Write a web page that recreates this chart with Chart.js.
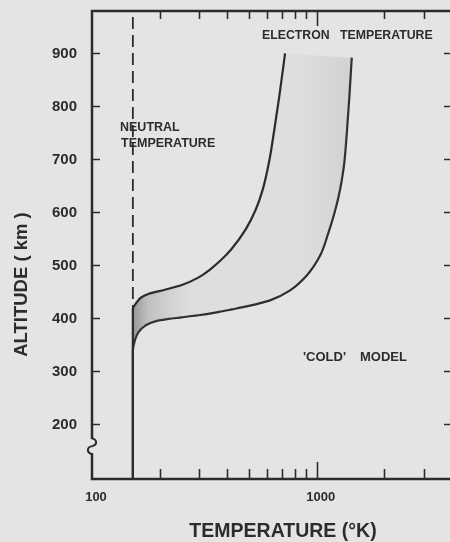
<!DOCTYPE html>
<html>
<head>
<meta charset="utf-8">
<script src="https://cdn.jsdelivr.net/npm/chart.js@4.4.0/dist/chart.umd.min.js"></script>
<style>
  html, body { margin: 0; padding: 0; overflow: hidden; background: #e4e4e2; }
  #wrap { position: absolute; left: 0; top: 0; width: 460px; height: 542px; }
</style>
</head>
<body>
<div id="wrap"><canvas id="chart" width="460" height="542"></canvas></div>
<script>
// 軸の範囲と目盛り
const tempRange = [100, 4000];
const altRange = [97, 980];
const xLabelTicks = [100, 1000];
const xMinorTicks = [200, 300, 400, 500, 600, 700, 800, 900, 2000, 3000];
const xMajorTicks = [1000];
const altTicks = [200, 300, 400, 500, 600, 700, 800, 900];

// 中性温度 (K)
const neutralTemp = 152;
const neutralAlt = [97, 980];

// 電子温度 上側の曲線
const upperAlt  = [97, 418, 430, 440, 446, 454, 463, 477, 493, 511, 530, 568, 605, 643, 699, 755, 818, 900];
const upperTemp = [152, 152, 158, 166, 178, 211, 251, 297, 337, 377, 416, 483, 535, 575, 616, 647, 681, 723];

// 電子温度 下側の曲線
const lowerAlt  = [97, 339, 358, 374, 386, 394.5, 399, 402, 406, 411, 417, 424, 434, 453, 481, 518, 561, 596, 629, 661, 693, 755, 818, 892];
const lowerTemp = [152, 152, 155, 161, 172, 191, 219, 251, 297, 353, 419, 505, 620, 761, 903, 1034, 1126, 1194, 1250, 1293, 1326, 1364, 1397, 1432];

const ink = '#2c2c2c';
const paper = '#e4e4e2';

document.addEventListener('DOMContentLoaded', () => {
    const ctx = document.getElementById('chart').getContext('2d');

    const toPoints = (temps, alts) => temps.map((t, i) => ({ x: t, y: alts[i] }));

    // 二本の曲線の間の網かけ
    const shadeFill = (context) => {
        const chart = context.chart;
        if (!chart.chartArea) return 'rgba(120,120,120,0.08)';
        const xs = chart.scales.x;
        const x0 = xs.getPixelForValue(neutralTemp);
        const x1 = xs.getPixelForValue(1450);
        const g = chart.ctx.createLinearGradient(x0, 0, x1, 0);
        g.addColorStop(0, 'rgba(70,70,70,0.5)');
        g.addColorStop(0.07, 'rgba(100,100,100,0.28)');
        g.addColorStop(0.25, 'rgba(130,130,130,0.07)');
        g.addColorStop(0.75, 'rgba(130,130,130,0.05)');
        g.addColorStop(1, 'rgba(110,110,110,0.16)');
        return g;
    };

    // 枠・目盛り・文字
    const framePlugin = {
        id: 'frame',
        beforeDraw(chart) {
            const c = chart.ctx;
            c.save();
            c.fillStyle = paper;
            c.fillRect(0, 0, chart.width, chart.height);
            c.restore();
        },
        afterDatasetsDraw(chart) {
            const c = chart.ctx;
            const { left, right, top, bottom } = chart.chartArea;
            const xs = chart.scales.x;
            const ys = chart.scales.y;
            c.save();
            c.strokeStyle = ink;
            c.lineCap = 'butt';

            c.lineWidth = 1.6;
            c.beginPath();
            xMinorTicks.forEach(v => {
                const px = Math.round(xs.getPixelForValue(v)) + 0.5;
                c.moveTo(px, bottom); c.lineTo(px, bottom - 10);
                c.moveTo(px, top); c.lineTo(px, top + 8);
            });
            xMajorTicks.forEach(v => {
                const px = Math.round(xs.getPixelForValue(v)) + 0.5;
                c.moveTo(px, bottom); c.lineTo(px, bottom - 17);
                c.moveTo(px, top); c.lineTo(px, top + 15);
            });
            altTicks.forEach(v => {
                const py = Math.round(ys.getPixelForValue(v)) + 0.5;
                c.moveTo(left, py); c.lineTo(left + 8, py);
                c.moveTo(right, py); c.lineTo(right - 8, py);
            });
            c.stroke();

            c.lineWidth = 2.5;
            c.strokeRect(left, top, right - left, bottom - top);

            // 縦軸の省略記号
            const by = ys.getPixelForValue(159);
            c.fillStyle = paper;
            c.fillRect(left - 3, by - 7, 6, 14);
            c.lineWidth = 2;
            c.beginPath();
            c.moveTo(left, by - 8);
            c.bezierCurveTo(left + 6, by - 6, left + 5, by - 1, left, by);
            c.bezierCurveTo(left - 5, by + 1, left - 6, by + 6, left, by + 8);
            c.stroke();
            c.restore();
        },
        afterDraw(chart) {
            const c = chart.ctx;
            c.save();
            c.fillStyle = ink;
            c.textBaseline = 'middle';
            c.textAlign = 'left';

            c.font = 'bold 12.3px "Liberation Sans"';
            c.fillText('ELECTRON', 262, 36);
            c.fillText('TEMPERATURE', 340, 36);

            c.font = 'bold 12.5px "Liberation Sans"';
            c.fillText('NEUTRAL', 120, 128);
            c.fillText('TEMPERATURE', 121, 143.5);

            c.font = 'bold 13px "Liberation Sans"';
            c.fillText("'COLD'", 303, 357);
            c.fillText('MODEL', 360, 357);

            c.textAlign = 'center';
            c.font = 'bold 19.5px "Liberation Sans"';
            c.fillText('TEMPERATURE (°K)', 283, 532);

            c.translate(21.5, 284.5);
            c.rotate(-Math.PI / 2);
            c.font = 'bold 18.5px "Liberation Sans"';
            c.fillText('ALTITUDE ( km )', 0, 0);
            c.restore();
        }
    };

    new Chart(ctx, {
        type: 'line',
        data: {
            datasets: [
                {
                    label: 'Electron temperature (upper)',
                    data: toPoints(upperTemp, upperAlt),
                    borderColor: ink,
                    borderWidth: 2.2,
                    pointRadius: 0,
                    cubicInterpolationMode: 'monotone',
                    fill: '+1',
                    backgroundColor: shadeFill
                },
                {
                    label: 'Electron temperature (lower)',
                    data: toPoints(lowerTemp, lowerAlt),
                    borderColor: ink,
                    borderWidth: 2.2,
                    pointRadius: 0,
                    cubicInterpolationMode: 'monotone',
                    fill: false
                },
                {
                    label: 'Neutral temperature',
                    data: neutralAlt.map(a => ({ x: neutralTemp, y: a })),
                    borderColor: ink,
                    borderWidth: 1.8,
                    borderDash: [12, 6],
                    pointRadius: 0,
                    fill: false
                }
            ]
        },
        options: {
            indexAxis: 'y',
            responsive: false,
            animation: false,
            layout: { autoPadding: false, padding: { top: 11, right: 8, left: 0, bottom: 0 } },
            plugins: {
                legend: { display: false },
                tooltip: { enabled: false }
            },
            scales: {
                x: {
                    type: 'logarithmic',
                    position: 'bottom',
                    min: tempRange[0],
                    max: tempRange[1],
                    grid: { display: false, drawTicks: false },
                    border: { display: false },
                    afterBuildTicks: (scale) => {
                        scale.ticks = xLabelTicks.map(v => ({ value: v }));
                    },
                    afterFit: (scale) => {
                        scale.height = 63;
                        scale.paddingLeft = 0;
                        scale.paddingRight = 0;
                    },
                    ticks: {
                        autoSkip: false,
                        maxRotation: 0,
                        padding: 11,
                        labelOffset: 4,
                        color: ink,
                        font: { family: 'Liberation Sans', size: 13, weight: 'bold' },
                        callback: (v) => String(v)
                    }
                },
                y: {
                    type: 'linear',
                    position: 'left',
                    min: altRange[0],
                    max: altRange[1],
                    grid: { display: false, drawTicks: false },
                    border: { display: false },
                    afterBuildTicks: (scale) => {
                        scale.ticks = altTicks.map(v => ({ value: v }));
                    },
                    afterFit: (scale) => {
                        scale.width = 92;
                        scale.paddingTop = 0;
                        scale.paddingBottom = 0;
                    },
                    ticks: {
                        autoSkip: false,
                        padding: 15,
                        color: ink,
                        font: { family: 'Liberation Sans', size: 15, weight: 'bold' },
                        callback: (v) => String(v)
                    }
                }
            }
        },
        plugins: [framePlugin]
    });
});
</script>
</body>
</html>
